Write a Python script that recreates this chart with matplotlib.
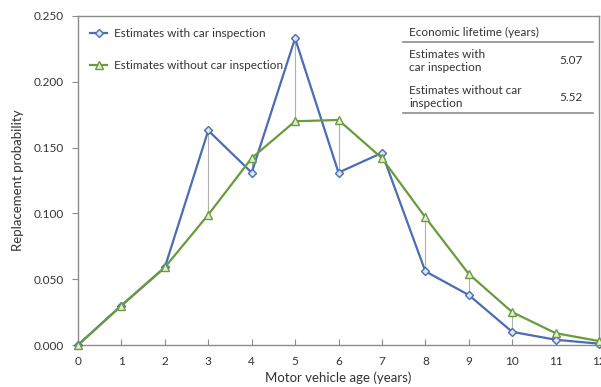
import matplotlib
matplotlib.use("Agg")
import matplotlib.pyplot as plt
from matplotlib.lines import Line2D

ages = list(range(13))
with_insp = [0.000, 0.030, 0.059, 0.163, 0.131, 0.233, 0.131, 0.146, 0.056, 0.038, 0.010, 0.004, 0.001]
without_insp = [0.000, 0.030, 0.059, 0.099, 0.142, 0.170, 0.171, 0.142, 0.097, 0.054, 0.025, 0.009, 0.003]
yticks = [0.0, 0.05, 0.10, 0.15, 0.20, 0.25]
series_names = ["Estimates with car inspection", "Estimates without car inspection"]
table_title = "Economic lifetime (years)"
table_rows = ["Estimates with\ncar inspection", "Estimates without car\ninspection"]
table_vals = ["5.07", "5.52"]

plt.rcParams['font.family'] = ['Lato', 'DejaVu Sans']
blue = "#4a6db3"
green = "#6a9b3c"
frame = "#8c8c8c"

fig = plt.figure(figsize=(6.01, 3.87), dpi=100)
ax = fig.add_axes([78/601, 1-345/387, 521/601, (345-16)/387])

ax.vlines(ages, [min(a, b) for a, b in zip(with_insp, without_insp)],
          [max(a, b) for a, b in zip(with_insp, without_insp)], color="#b0b0b0", lw=0.8, zorder=1)
ax.plot(ages, with_insp, color=blue, lw=1.6, marker="D", ms=4.5, mfc="#dfe6f3", mec=blue, mew=1.0, zorder=3,
        clip_on=False)
ax.plot(ages, without_insp, color=green, lw=1.6, marker="^", ms=6, mfc="#e3eed8", mec=green, mew=1.0, zorder=3,
        clip_on=False)

ax.set_xlim(0, 12)
ax.set_ylim(0, 0.25)
ax.set_xticks(ages)
ax.set_yticks(yticks)
ax.set_yticklabels([f"{v:.3f}" for v in yticks])
for s in ax.spines.values():
    s.set_color(frame)
    s.set_linewidth(1.0)
ax.tick_params(axis="x", direction="in", length=4, color=frame, labelsize=8.5, pad=8, labelcolor="#333333")
ax.tick_params(axis="y", direction="out", length=4, color=frame, labelsize=8.5, pad=6, labelcolor="#333333")
ax.set_xlabel("Motor vehicle age (years)", fontsize=9.5, color="#333333", labelpad=3)
ax.set_ylabel("Replacement probability", fontsize=9.5, color="#333333", labelpad=7)

handles = [Line2D([], [], color=blue, lw=1.6, marker="D", ms=4.5, mfc="#dfe6f3", mec=blue),
           Line2D([], [], color=green, lw=1.6, marker="^", ms=6, mfc="#e3eed8", mec=green)]
ax.legend(handles, series_names, loc="upper left", bbox_to_anchor=(0.0, 1.0), frameon=False,
          fontsize=8.5, labelspacing=1.75, handlelength=1.4, borderaxespad=0.65, handletextpad=0.6,
          labelcolor="#333333")

# table
def fx(px):
    return px / 601
def fy(py):
    return 1 - py / 387
tc = "#333333"
fig.text(fx(409), fy(32), table_title, fontsize=8.5, color=tc, va="center")
fig.add_artist(Line2D([fx(403), fx(593)], [fy(42), fy(42)], color=frame, lw=1.2))
fig.text(fx(409), fy(61), table_rows[0], fontsize=8.5, color=tc, va="center", linespacing=1.15)
fig.text(fx(583), fy(61), table_vals[0], fontsize=8.5, color=tc, va="center", ha="right")
fig.text(fx(409), fy(97), table_rows[1], fontsize=8.5, color=tc, va="center", linespacing=1.15)
fig.text(fx(583), fy(97), table_vals[1], fontsize=8.5, color=tc, va="center", ha="right")
fig.add_artist(Line2D([fx(403), fx(593)], [fy(113), fy(113)], color=frame, lw=1.2))

fig.savefig("out.png", dpi=100)
